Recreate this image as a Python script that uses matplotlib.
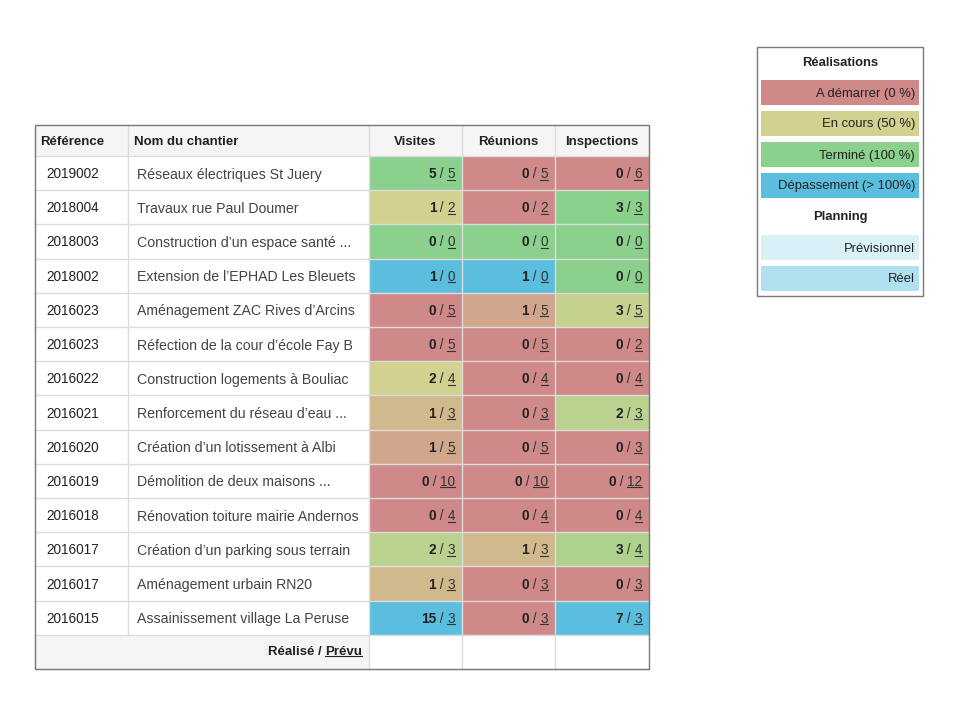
import numpy as np
import matplotlib.pyplot as plt
from matplotlib.patches import Rectangle

plt.rcParams['font.family'] = ['Liberation Sans', 'DejaVu Sans']

# data
refs = ['2019002', '2018004', '2018003', '2018002', '2016023', '2016023', '2016022',
        '2016021', '2016020', '2016019', '2016018', '2016017', '2016017', '2016015']
names = ['Réseaux électriques St Juery', 'Travaux rue Paul Doumer',
         'Construction d’un espace santé ...', 'Extension de l’EPHAD Les Bleuets',
         'Aménagement ZAC Rives d’Arcins', 'Réfection de la cour d’école Fay B',
         'Construction logements à Bouliac', 'Renforcement du réseau d’eau ...',
         'Création d’un lotissement à Albi', 'Démolition de deux maisons ...',
         'Rénovation toiture mairie Andernos', 'Création d’un parking sous terrain',
         'Aménagement urbain RN20', 'Assainissement village La Peruse']
visites_done = [5, 1, 0, 1, 0, 0, 2, 1, 1, 0, 0, 2, 1, 15]
visites_plan = [5, 2, 0, 0, 5, 5, 4, 3, 5, 10, 4, 3, 3, 3]
reunions_done = [0, 0, 0, 1, 1, 0, 0, 0, 0, 0, 0, 1, 0, 0]
reunions_plan = [5, 2, 0, 0, 5, 5, 4, 3, 5, 10, 4, 3, 3, 3]
insp_done = [0, 3, 0, 0, 3, 0, 0, 2, 0, 0, 0, 3, 0, 7]
insp_plan = [6, 3, 0, 0, 5, 2, 4, 3, 3, 12, 4, 4, 3, 3]

columns = ['Visites', 'Réunions', 'Inspections']
legend_real = ['A démarrer (0 %)', 'En cours (50 %)', 'Terminé (100 %)', 'Dépassement (> 100%)']
legend_plan = ['Prévisionnel', 'Réel']

# colours
RED = np.array([207, 137, 137]) / 255
YEL = np.array([210, 209, 144]) / 255
GRN = np.array([139, 208, 140]) / 255
BLU = np.array([91, 190, 222]) / 255


def cell_color(done, plan):
    if plan == 0:
        return BLU if done > 0 else GRN
    r = done / plan
    if r > 1:
        return BLU
    if r <= 0.5:
        t = r / 0.5
        return RED + (YEL - RED) * t
    t = (r - 0.5) / 0.5
    return YEL + (GRN - YEL) * t


fig = plt.figure(figsize=(9.6, 7.24), dpi=100)
ax = fig.add_axes([0, 0, 1, 1])
ax.set_xlim(0, 960)
ax.set_ylim(724, 0)
ax.axis('off')
renderer = fig.canvas.get_renderer()

FS = 9.8      # numbers / refs
FS_NAME = 10.2
FS_HEAD = 9.5
FS_LEG = 9.4
col_x = [35, 128, 369, 462, 555, 649]
top = 125
head_h = 31
row_h = 34.2
y0 = top + head_h
n = len(refs)
bottom = y0 + row_h * (n + 1)
grid = '#dddddd'
txt = '#222222'

# header background
ax.add_patch(Rectangle((col_x[0], top), col_x[-1] - col_x[0], head_h, fc='#f5f5f5', ec='none'))
# footer background
ax.add_patch(Rectangle((col_x[0], y0 + n * row_h), col_x[2] - col_x[0], row_h, fc='#f5f5f5', ec='none'))

hy = top + head_h / 2 + 1.5
ax.text(40, hy, 'Référence', fontsize=FS_HEAD, fontweight='bold', va='center', ha='left', color=txt)
ax.text(134, hy, 'Nom du chantier', fontsize=FS_HEAD, fontweight='bold', va='center', ha='left', color=txt)
for j, c in enumerate(columns):
    ax.text((col_x[j + 2] + col_x[j + 3]) / 2, hy, c, fontsize=FS_HEAD, fontweight='bold',
            va='center', ha='center', color=txt)


def frac_text(x_right, yc, done, plan, fs=FS):
    # denominator, underlined, right aligned
    t = ax.text(x_right, yc, str(plan), fontsize=fs, va='center', ha='right', color='#333333')
    bb = t.get_window_extent(renderer).transformed(ax.transData.inverted())
    x_left = min(bb.x0, bb.x1)
    ybot = max(bb.y0, bb.y1)
    ax.plot([x_left, x_right], [ybot - 1.5, ybot - 1.5], color='#333333', lw=0.8)
    s = ax.text(x_left, yc, ' / ', fontsize=fs, va='center', ha='right', color='#333333')
    bb2 = s.get_window_extent(renderer).transformed(ax.transData.inverted())
    ax.text(min(bb2.x0, bb2.x1), yc, str(done), fontsize=fs, fontweight='bold',
            va='center', ha='right', color=txt)


data_cols = [(visites_done, visites_plan), (reunions_done, reunions_plan), (insp_done, insp_plan)]
for i in range(n):
    ya = y0 + i * row_h
    yc = ya + row_h / 2 + 1
    ax.text(46, yc, refs[i], fontsize=FS, va='center', ha='left', color=txt)
    ax.text(137, yc + 0.5, names[i], fontsize=FS_NAME, va='center', ha='left', color='#444444')
    for j, (d, p) in enumerate(data_cols):
        ax.add_patch(Rectangle((col_x[j + 2], ya), col_x[j + 3] - col_x[j + 2], row_h,
                               fc=cell_color(d[i], p[i]), ec='none'))
        frac_text(col_x[j + 3] - 7, yc, d[i], p[i])

# footer label
fy = y0 + n * row_h + row_h / 2
t = ax.text(362, fy, 'Prévu', fontsize=FS_HEAD, fontweight='bold', va='center', ha='right', color=txt)
bb = t.get_window_extent(renderer).transformed(ax.transData.inverted())
ax.plot([min(bb.x0, bb.x1), 362], [max(bb.y0, bb.y1) - 1.5] * 2, color=txt, lw=0.8)
ax.text(min(bb.x0, bb.x1), fy, 'Réalisé / ', fontsize=FS_HEAD, fontweight='bold', va='center', ha='right', color=txt)

# grid lines
for k in range(n + 2):
    ax.plot([col_x[0], col_x[-1]], [y0 + k * row_h] * 2, color=grid, lw=1, zorder=3)
for k, xx in enumerate(col_x[1:-1]):
    ybot = bottom if k >= 1 else y0 + n * row_h
    ax.plot([xx, xx], [top, ybot], color=grid, lw=1, zorder=3)
ax.add_patch(Rectangle((col_x[0], top), col_x[-1] - col_x[0], bottom - top,
                       fc='none', ec='#777777', lw=1, zorder=4))

# legend
lx0, lx1 = 757, 923
ax.add_patch(Rectangle((lx0, 47), lx1 - lx0, 249, fc='white', ec='#777777', lw=1))
ax.text((lx0 + lx1) / 2, 63, 'Réalisations', fontsize=FS_LEG, fontweight='bold', ha='center', va='center', color=txt)
for k, (lab, col) in enumerate(zip(legend_real, [RED, YEL, GRN, BLU])):
    yb = 80 + k * 31
    ax.add_patch(Rectangle((761, yb), 158, 25, fc=col, ec='none'))
    ax.text(915, yb + 13.5, lab, fontsize=FS_LEG, ha='right', va='center', color=txt)
ax.text((lx0 + lx1) / 2, 217, 'Planning', fontsize=FS_LEG, fontweight='bold', ha='center', va='center', color=txt)
for k, (lab, col) in enumerate(zip(legend_plan, ['#d9f0f7', '#b1e0ee'])):
    yb = 235 + k * 30.5
    ax.add_patch(Rectangle((761, yb), 158, 25, fc=col, ec='none'))
    ax.text(915, yb + 13.5, lab, fontsize=FS_LEG, ha='right', va='center', color=txt)

fig.savefig('out.png', dpi=100)
